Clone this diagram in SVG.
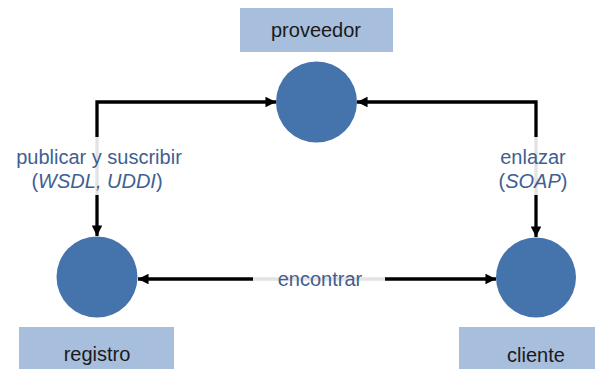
<svg xmlns="http://www.w3.org/2000/svg" width="601" height="369" viewBox="0 0 601 369">
  <style>
    .box { fill: #A7BEDD; }
    .node { fill: #4573AC; }
    .name { font-family: "Liberation Sans", Arial, sans-serif; font-size: 20px; fill: #1A1A1A; text-anchor: middle; }
    .lbl { font-family: "Liberation Sans", Arial, sans-serif; font-size: 20px; fill: #3F6090; text-anchor: middle; }
    .wire { fill: none; stroke: #000; stroke-width: 3.3; }
    .gap { fill: none; stroke: #E3E3E3; stroke-width: 3.3; }
  </style>
  <defs>
    <marker id="arrow" viewBox="0 0 10 10" refX="10" refY="5" markerWidth="3.4" markerHeight="3.2" orient="auto-start-reverse" markerUnits="strokeWidth">
      <path d="M0,0 L10,5 L0,10 Z" fill="#000"/>
    </marker>
  </defs>

  <rect width="601" height="369" fill="#FFFFFF"/>

  <g id="connectors">
    <!-- publicar y suscribir: proveedor <-> registro -->
    <path class="wire" d="M97,137 V102 H276" marker-end="url(#arrow)"/>
    <path class="gap" d="M97,137 V195"/>
    <path class="wire" d="M97,195 V236" marker-end="url(#arrow)"/>
    <!-- enlazar: proveedor <-> cliente -->
    <path class="wire" d="M536,137 V102 H357" marker-end="url(#arrow)"/>
    <path class="gap" d="M536,137 V195"/>
    <path class="wire" d="M536,195 V237" marker-end="url(#arrow)"/>
    <!-- encontrar: registro <-> cliente -->
    <path class="wire" d="M253,279 H138" marker-end="url(#arrow)"/>
    <path class="gap" d="M253,279 H385"/>
    <path class="wire" d="M385,279 H496" marker-end="url(#arrow)"/>
  </g>

  <g id="label-publicar">
    <text class="lbl" x="99" y="164">publicar y suscribir</text>
    <text class="lbl" x="97" y="188">(<tspan font-style="italic">WSDL, UDDI</tspan>)</text>
  </g>
  <g id="label-enlazar">
    <text class="lbl" x="533" y="164">enlazar</text>
    <text class="lbl" x="533" y="188">(<tspan font-style="italic">SOAP</tspan>)</text>
  </g>
  <g id="label-encontrar">
    <text class="lbl" x="320" y="286">encontrar</text>
  </g>

  <g id="proveedor">
    <rect class="box" x="240" y="8" width="153" height="44"/>
    <text class="name" x="316" y="37">proveedor</text>
    <circle class="node" cx="316.5" cy="102" r="40.5"/>
  </g>

  <g id="registro">
    <circle class="node" cx="97" cy="277" r="40.5"/>
    <rect class="box" x="19" y="327" width="155" height="42"/>
    <text class="name" x="97" y="361">registro</text>
  </g>

  <g id="cliente">
    <circle class="node" cx="536" cy="277.5" r="40"/>
    <rect class="box" x="459" y="327" width="136" height="42"/>
    <text class="name" x="536" y="362">cliente</text>
  </g>
</svg>
